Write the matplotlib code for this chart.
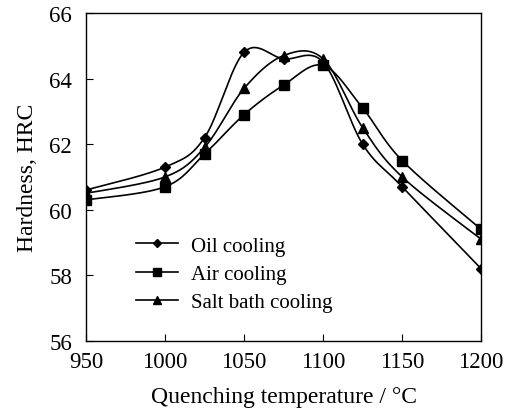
import numpy as np
import matplotlib
matplotlib.use("Agg")
import matplotlib.pyplot as plt

plt.rcParams['font.family'] = ['Liberation Serif', 'DejaVu Serif']

# data
temps = [950, 1000, 1025, 1050, 1075, 1100, 1125, 1150, 1200]
oil_hrc = [60.6, 61.3, 62.2, 64.8, 64.6, 64.5, 62.0, 60.7, 58.2]
air_hrc = [60.3, 60.7, 61.7, 62.9, 63.8, 64.4, 63.1, 61.5, 59.4]
salt_hrc = [60.5, 61.0, 61.9, 63.7, 64.7, 64.6, 62.5, 61.0, 59.1]

x_ticks = [950, 1000, 1050, 1100, 1150, 1200]
y_ticks = [56, 58, 60, 62, 64, 66]


def smooth(x, y, n=30):
    # Excel-like smoothed line (Catmull-Rom as cubic bezier)
    x = np.asarray(x, float)
    y = np.asarray(y, float)
    px = np.concatenate([[x[0]], x, [x[-1]]])
    py = np.concatenate([[y[0]], y, [y[-1]]])
    t = np.linspace(0, 1, n)
    xs, ys = [], []
    for i in range(1, len(px) - 2):
        p0 = np.array([px[i], py[i]])
        p3 = np.array([px[i + 1], py[i + 1]])
        p1 = p0 + (np.array([px[i + 1], py[i + 1]]) - np.array([px[i - 1], py[i - 1]])) / 6
        p2 = p3 - (np.array([px[i + 2], py[i + 2]]) - np.array([px[i], py[i]])) / 6
        b = ((1 - t) ** 3)[:, None] * p0 + (3 * (1 - t) ** 2 * t)[:, None] * p1 \
            + (3 * (1 - t) * t ** 2)[:, None] * p2 + (t ** 3)[:, None] * p3
        xs.extend(b[:, 0])
        ys.extend(b[:, 1])
    return xs, ys


fig = plt.figure(figsize=(5.06, 4.10), dpi=100)
ax = fig.add_axes([0.170, 0.166, 0.781, 0.800])

series = [(oil_hrc, 'D', 5.5, 'Oil cooling'),
          (air_hrc, 's', 7, 'Air cooling'),
          (salt_hrc, '^', 7.5, 'Salt bath cooling')]

handles = []
for vals, mk, ms, lab in series:
    sx, sy = smooth(temps, vals)
    ax.plot(sx, sy, color='black', lw=1.2)
    ax.plot(temps, vals, ls='none', marker=mk, ms=ms, color='black')
    h, = ax.plot([], [], color='black', lw=1.2, marker=mk, ms=ms * 0.8, label=lab)
    handles.append(h)

ax.set_xlim(950, 1200)
ax.set_ylim(56, 66)
ax.set_xticks(x_ticks)
ax.set_yticks(y_ticks)
ax.tick_params(direction='in', length=5, labelsize=16.5, top=False, right=False)
ax.tick_params(axis='y', pad=10)
ax.tick_params(axis='x', pad=7)
for s in ax.spines.values():
    s.set_linewidth(1.0)

ax.set_xlabel('Quenching temperature / °C', fontsize=17, labelpad=10)
ax.set_ylabel('Hardness, HRC', fontsize=17, labelpad=8)

ax.legend(handles=handles, loc='lower left', bbox_to_anchor=(0.08, 0.03),
          frameon=False, fontsize=15, handlelength=2.0, handletextpad=0.6,
          labelspacing=0.42)

fig.savefig('out.png', dpi=100)
